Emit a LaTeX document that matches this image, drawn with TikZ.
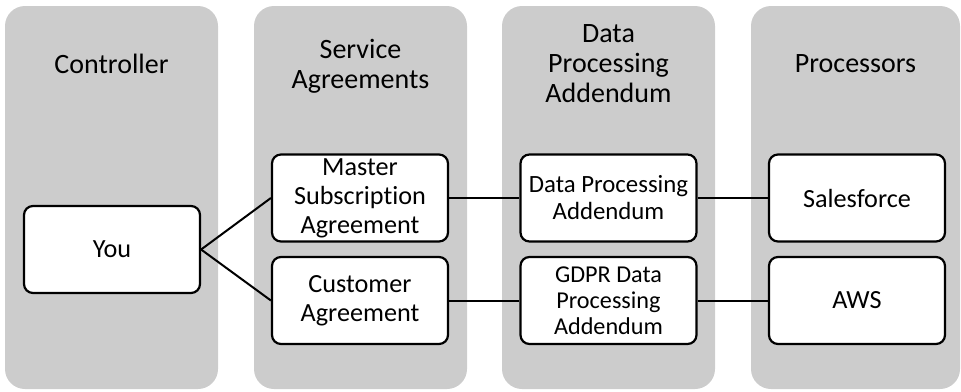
\documentclass[tikz,border=0pt]{standalone}
\usepackage{fontspec}
\setmainfont{Carlito}[Ligatures=NoCommon]
\begin{document}
\begin{tikzpicture}[x=1pt,y=-1pt,
  lane/.style={fill=laneGray,draw=none,rounded corners=20pt},
  title/.style={align=center,font=\fontsize{28}{30}\selectfont,inner sep=0pt},
  box/.style={draw=black,fill=white,line width=2.2pt,rounded corners=9pt,
    minimum width=176pt,minimum height=87pt,inner sep=0pt,align=center,
    font=\fontsize{26.2}{29}\selectfont},
  link/.style={draw=black,line width=2pt}]
\definecolor{laneGray}{HTML}{CCCCCC}
\useasboundingbox (0,0) rectangle (961,391);
% lanes
\path[lane] (5,6) rectangle (218,389);
\path[lane] (254,6) rectangle (467,389);
\path[lane] (502,6) rectangle (715,389);
\path[lane] (751,6) rectangle (960,389);
% titles
\node[title] (t1) at (111.5,64) {Controller};
\node[title] (t2) at (360.5,66) {Service\\Agreements};
\node[title] (t3) at (608.5,64) {Data\\Processing\\Addendum};
\node[title] (t4) at (855.5,64) {Processors};
% boxes
\node[box] (you) at (112,249.5) {You};
\node[box] (msa) at (360,198) {Master\\Subscription\\Agreement};
\node[box] (ca) at (360,300.5) {Customer\\Agreement};
\node[box,font=\fontsize{24.8}{27}\selectfont] (dpa) at (608.5,198) {Data Processing\\Addendum};
\node[box,font=\fontsize{24.2}{26}\selectfont] (gdpr) at (608.5,300.5) {GDPR Data\\Processing\\Addendum};
\node[box] (sf) at (857,198) {Salesforce};
\node[box] (aws) at (857,300.5) {AWS};
% connectors
\draw[link] (you.east) -- (msa.west);
\draw[link] (you.east) -- (ca.west);
\draw[link] (msa.east) -- (dpa.west);
\draw[link] (dpa.east) -- (sf.west);
\draw[link] (ca.east) -- (gdpr.west);
\draw[link] (gdpr.east) -- (aws.west);
\end{tikzpicture}
\end{document}
